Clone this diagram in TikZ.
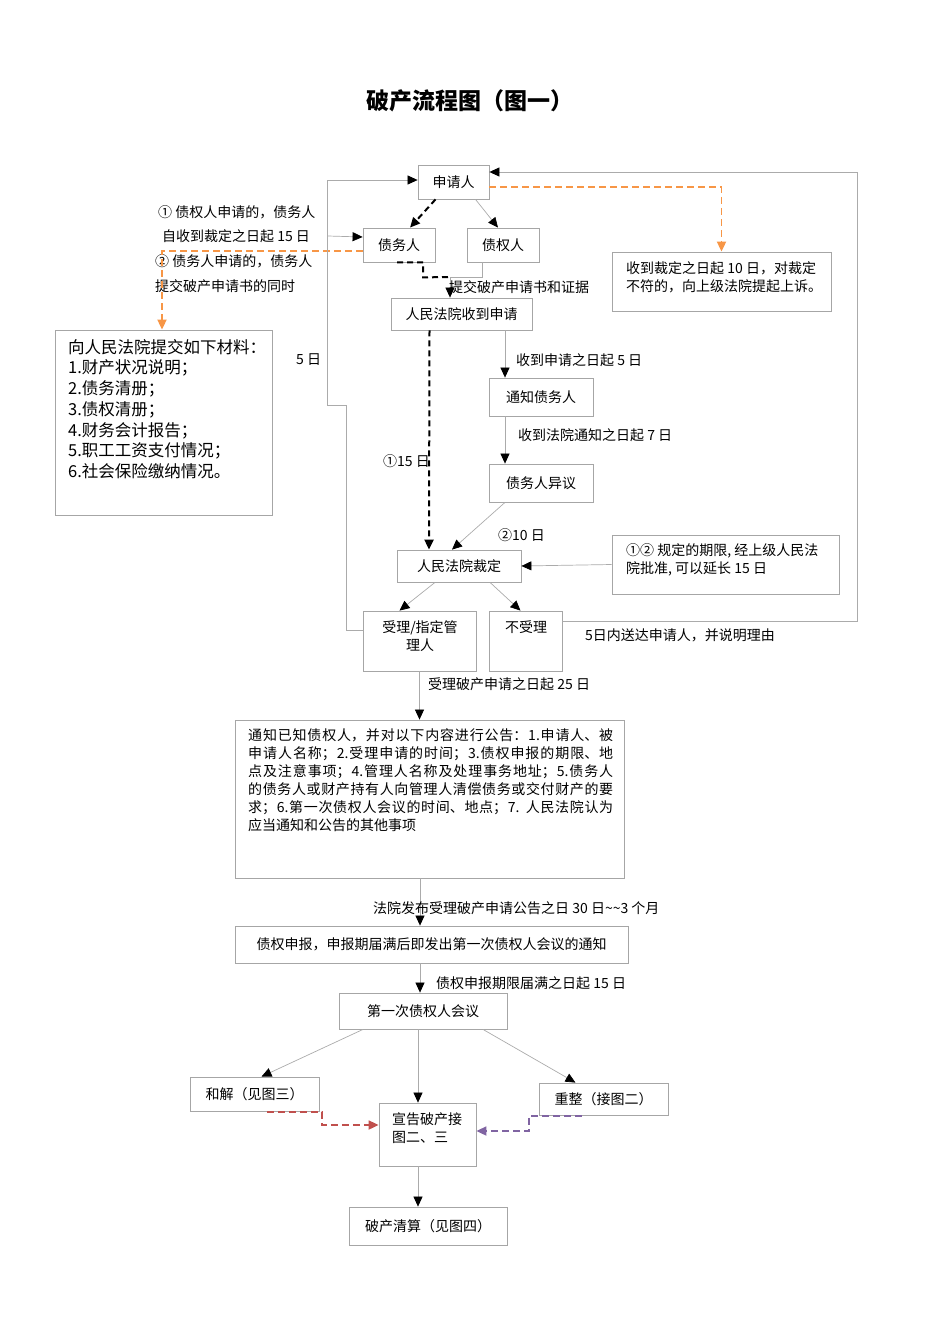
\documentclass[tikz,border=0pt]{standalone}
\usepackage{fontspec}
\setmainfont{Noto Sans CJK SC}
\usetikzlibrary{arrows.meta, positioning, calc}
\XeTeXlinebreaklocale "zh"
\XeTeXlinebreakskip = 0pt plus 1.5pt
\definecolor{boxgray}{HTML}{A6A6A6}
\definecolor{linegray}{HTML}{ABABAB}
\definecolor{dashorange}{HTML}{F79646}
\definecolor{dashred}{HTML}{C0504D}
\definecolor{dashpurple}{HTML}{8064A2}
\tikzstyle{arrow} = [draw=linegray, line width=0.7pt, -{Triangle[length=10pt, width=9pt, color=black]}]

\begin{document}
\begin{tikzpicture}[
  x=1pt, y=-1pt,
  font=\fontsize{14pt}{18pt}\selectfont,
  box/.style={draw=boxgray, line width=0.8pt, inner sep=2pt, align=center},
  txt/.style={inner sep=0pt, align=left},
  lbl/.style={anchor=west, inner sep=0pt},
  blkdash/.style={black, line width=2pt, dash pattern=on 6pt off 4pt},
  odash/.style={draw=dashorange, line width=1.8pt, dash pattern=on 7pt off 4pt, -{Triangle[length=10pt, width=9pt]}},
  rdash/.style={draw=dashred, line width=1.8pt, dash pattern=on 7pt off 4pt, -{Triangle[length=10pt, width=9pt]}},
  pdash/.style={draw=dashpurple, line width=1.8pt, dash pattern=on 7pt off 4pt, -{Triangle[length=10pt, width=9pt]}}
]
\useasboundingbox (0,0) rectangle (950,1344);

\node[font=\fontsize{23pt}{26pt}\selectfont\bfseries] (title) at (470,101) {破产流程图（图一）};

% Application stage
\node[box, minimum width=71, minimum height=34] (app) at (453.5,182) {申请人};
\node[box, minimum width=72, minimum height=34] (debtor) at (399,245) {债务人};
\node[box, minimum width=72, minimum height=34] (creditor) at (503,245) {债权人};
\node[box, minimum width=141, minimum height=32] (recv) at (461.5,314) {人民法院收到申请};

\node[box, minimum width=219, minimum height=59] (appeal) at (721.5,281.5) {};
\node[txt, anchor=north west] (appeal-t) at (626,261) {收到裁定之日起 10 日，对裁定\\不符的，向上级法院提起上诉。};

\node[box, minimum width=217, minimum height=185] (mat) at (163.5,422.5) {};
\node[txt, anchor=north west, font=\fontsize{16.5pt}{20.7pt}\selectfont] (mat-t) at (68,339)
  {向人民法院提交如下材料：\\1.财产状况说明；\\2.债务清册；\\3.债权清册；\\4.财务会计报告；\\5.职工工资支付情况；\\6.社会保险缴纳情况。};

\node[txt, anchor=north west, font=\fontsize{14pt}{24.7pt}\selectfont] (rule-t) at (155,205)
  {\hspace{3pt}① 债权人申请的，债务人\\\hspace{7pt}自收到裁定之日起 15 日\\② 债务人申请的，债务人\\提交破产申请书的同时};

% Court review
\node[box, minimum width=104, minimum height=38] (notify) at (541,397) {通知债务人};
\node[box, minimum width=104, minimum height=38] (objection) at (541,483) {债务人异议};
\node[box, minimum width=124, minimum height=32] (ruling) at (459,566) {人民法院裁定};

\node[box, minimum width=227, minimum height=59] (extend) at (725.5,564.5) {};
\node[txt, anchor=north west] (extend-t) at (626,543) {①② 规定的期限, 经上级人民法\\院批准, 可以延长 15 日};

\node[box, minimum width=113, minimum height=60] (accept) at (419.5,641) {};
\node[txt, anchor=north, align=center] (accept-t) at (420,620) {受理/指定管\\理人};
\node[box, minimum width=73, minimum height=60] (reject) at (525.5,641) {};
\node[txt, anchor=north] (reject-t) at (526,620) {不受理};

% Announcement and meeting
\node[box, minimum width=389, minimum height=158] (notice) at (429.5,799) {};
\node[txt, anchor=north west, text width=365pt, align=justify] (notice-t) at (248,728)
  {通知已知债权人，并对以下内容进行公告：1.申请人、被\linebreak
   申请人名称；2.受理申请的时间；3.债权申报的期限、地\linebreak
   点及注意事项；4.管理人名称及处理事务地址；5.债务人\linebreak
   的债务人或财产持有人向管理人清偿债务或交付财产的要\linebreak
   求；6.第一次债权人会议的时间、地点；7. 人民法院认为\linebreak
   应当通知和公告的其他事项};

\node[box, minimum width=393, minimum height=37] (claim) at (431.5,944.5) {债权申报，申报期届满后即发出第一次债权人会议的通知};
\node[box, minimum width=168, minimum height=36] (meeting) at (423,1011) {第一次债权人会议};

\node[box, minimum width=129, minimum height=34] (settle) at (254.5,1094) {和解（见图三）};
\node[box, minimum width=129, minimum height=32] (reorg) at (603.5,1099) {重整（接图二）};
\node[box, minimum width=97, minimum height=63] (declare) at (427.5,1134.5) {};
\node[txt, anchor=north west] (declare-t) at (392,1112) {宣告破产接\\图二、三};
\node[box, minimum width=158, minimum height=38] (liq) at (428,1226) {破产清算（见图四）};

% Connectors, top
\coordinate (join) at (450,277);
\coordinate (split) at (328,236);
\draw[blkdash, -{Triangle[length=10pt, width=9pt]}] ([xshift=-18pt]app.south) -- ([xshift=11pt]debtor.north);
\draw[arrow] ([xshift=22pt]app.south) -- ([xshift=-5pt]creditor.north);
\draw[blkdash] ([xshift=-2pt]debtor.south) -- ++(26,0) -- ++(0,15) -- (join);
\draw[arrow] ([xshift=-21pt]creditor.south) |- (join) -- ([xshift=-11.5pt]recv.north);
\draw[odash] ([yshift=-5pt]app.east) -| (appeal.north);
\draw[odash] ([yshift=-6pt]debtor.west) -| ([xshift=-1.5pt]mat.north);

% Return loops to the applicant
\draw[arrow] ([yshift=11pt]accept.west) -- ++(-16,0) -- ++(0,-225) -- ++(-19,0) |- ([yshift=2pt]app.west);
\draw[arrow] (split) -- ([yshift=8pt]debtor.west);
\draw[arrow] ([yshift=20pt]reject.east) -- ++(295,0) |- ([yshift=10pt]app.east);

% Court review connectors
\draw[blkdash, -{Triangle[length=10pt, width=9pt]}] ([xshift=-32pt]recv.south) -- ([xshift=-30pt]ruling.north);
\draw[arrow] ([xshift=43.5pt]recv.south) -- ([xshift=-36pt]notify.north);
\draw[arrow] ([xshift=-36pt]notify.south) -- ([xshift=-36pt]objection.north);
\draw[arrow] ([xshift=-36pt]objection.south) -- ([xshift=-7pt]ruling.north);
\draw[arrow] (extend.west) -- (ruling.east);
\draw[arrow] ([xshift=-24pt]ruling.south) -- ([xshift=-20pt]accept.north);
\draw[arrow] ([xshift=31pt]ruling.south) -- ([xshift=-5pt]reject.north);

% Lower chain
\draw[arrow] (accept.south) -- (notice.north -| accept.south);
\draw[arrow] ([xshift=-9.5pt]notice.south) -- ([xshift=-11.5pt]claim.north);
\draw[arrow] ([xshift=-11.5pt]claim.south) -- ([xshift=-3pt]meeting.north);
\draw[arrow] ([xshift=-60pt]meeting.south) -- ([xshift=7pt]settle.north);
\draw[arrow] ([xshift=-5pt]meeting.south) -- ([xshift=-9.5pt]declare.north);
\draw[arrow] ([xshift=60pt]meeting.south) -- ([xshift=-28pt]reorg.north);
\draw[rdash] ([xshift=12.5pt, yshift=-0.5pt]settle.south) -- ++(55,0) |- ([yshift=9.5pt]declare.west);
\draw[pdash] ([xshift=-21.5pt, yshift=-0.5pt]reorg.south) -- ++(-53,0) |- ([yshift=3.5pt]declare.east);
\draw[arrow] ([xshift=-9.5pt]declare.south) -- ([xshift=-10pt]liq.north);

% Labels
\node[lbl] (l-submit) at (449,287) {提交破产申请书和证据};
\node[lbl] (l-5a) at (296,360) {5 日};
\node[lbl] (l-5b) at (516,360) {收到申请之日起 5 日};
\node[lbl] (l-7) at (518,435) {收到法院通知之日起 7 日};
\node[lbl] (l-15) at (383,461) {①15 日};
\node[lbl] (l-10) at (498,535) {②10 日};
\node[lbl] (l-reject) at (585,635) {5日内送达申请人，并说明理由};
\node[lbl] (l-25) at (428,684) {受理破产申请之日起 25 日};
\node[lbl] (l-30) at (373,908) {法院发布受理破产申请公告之日 30 日\textasciitilde\textasciitilde 3 个月};
\node[lbl] (l-15b) at (436,983) {债权申报期限届满之日起 15 日};

\end{tikzpicture}
\end{document}
